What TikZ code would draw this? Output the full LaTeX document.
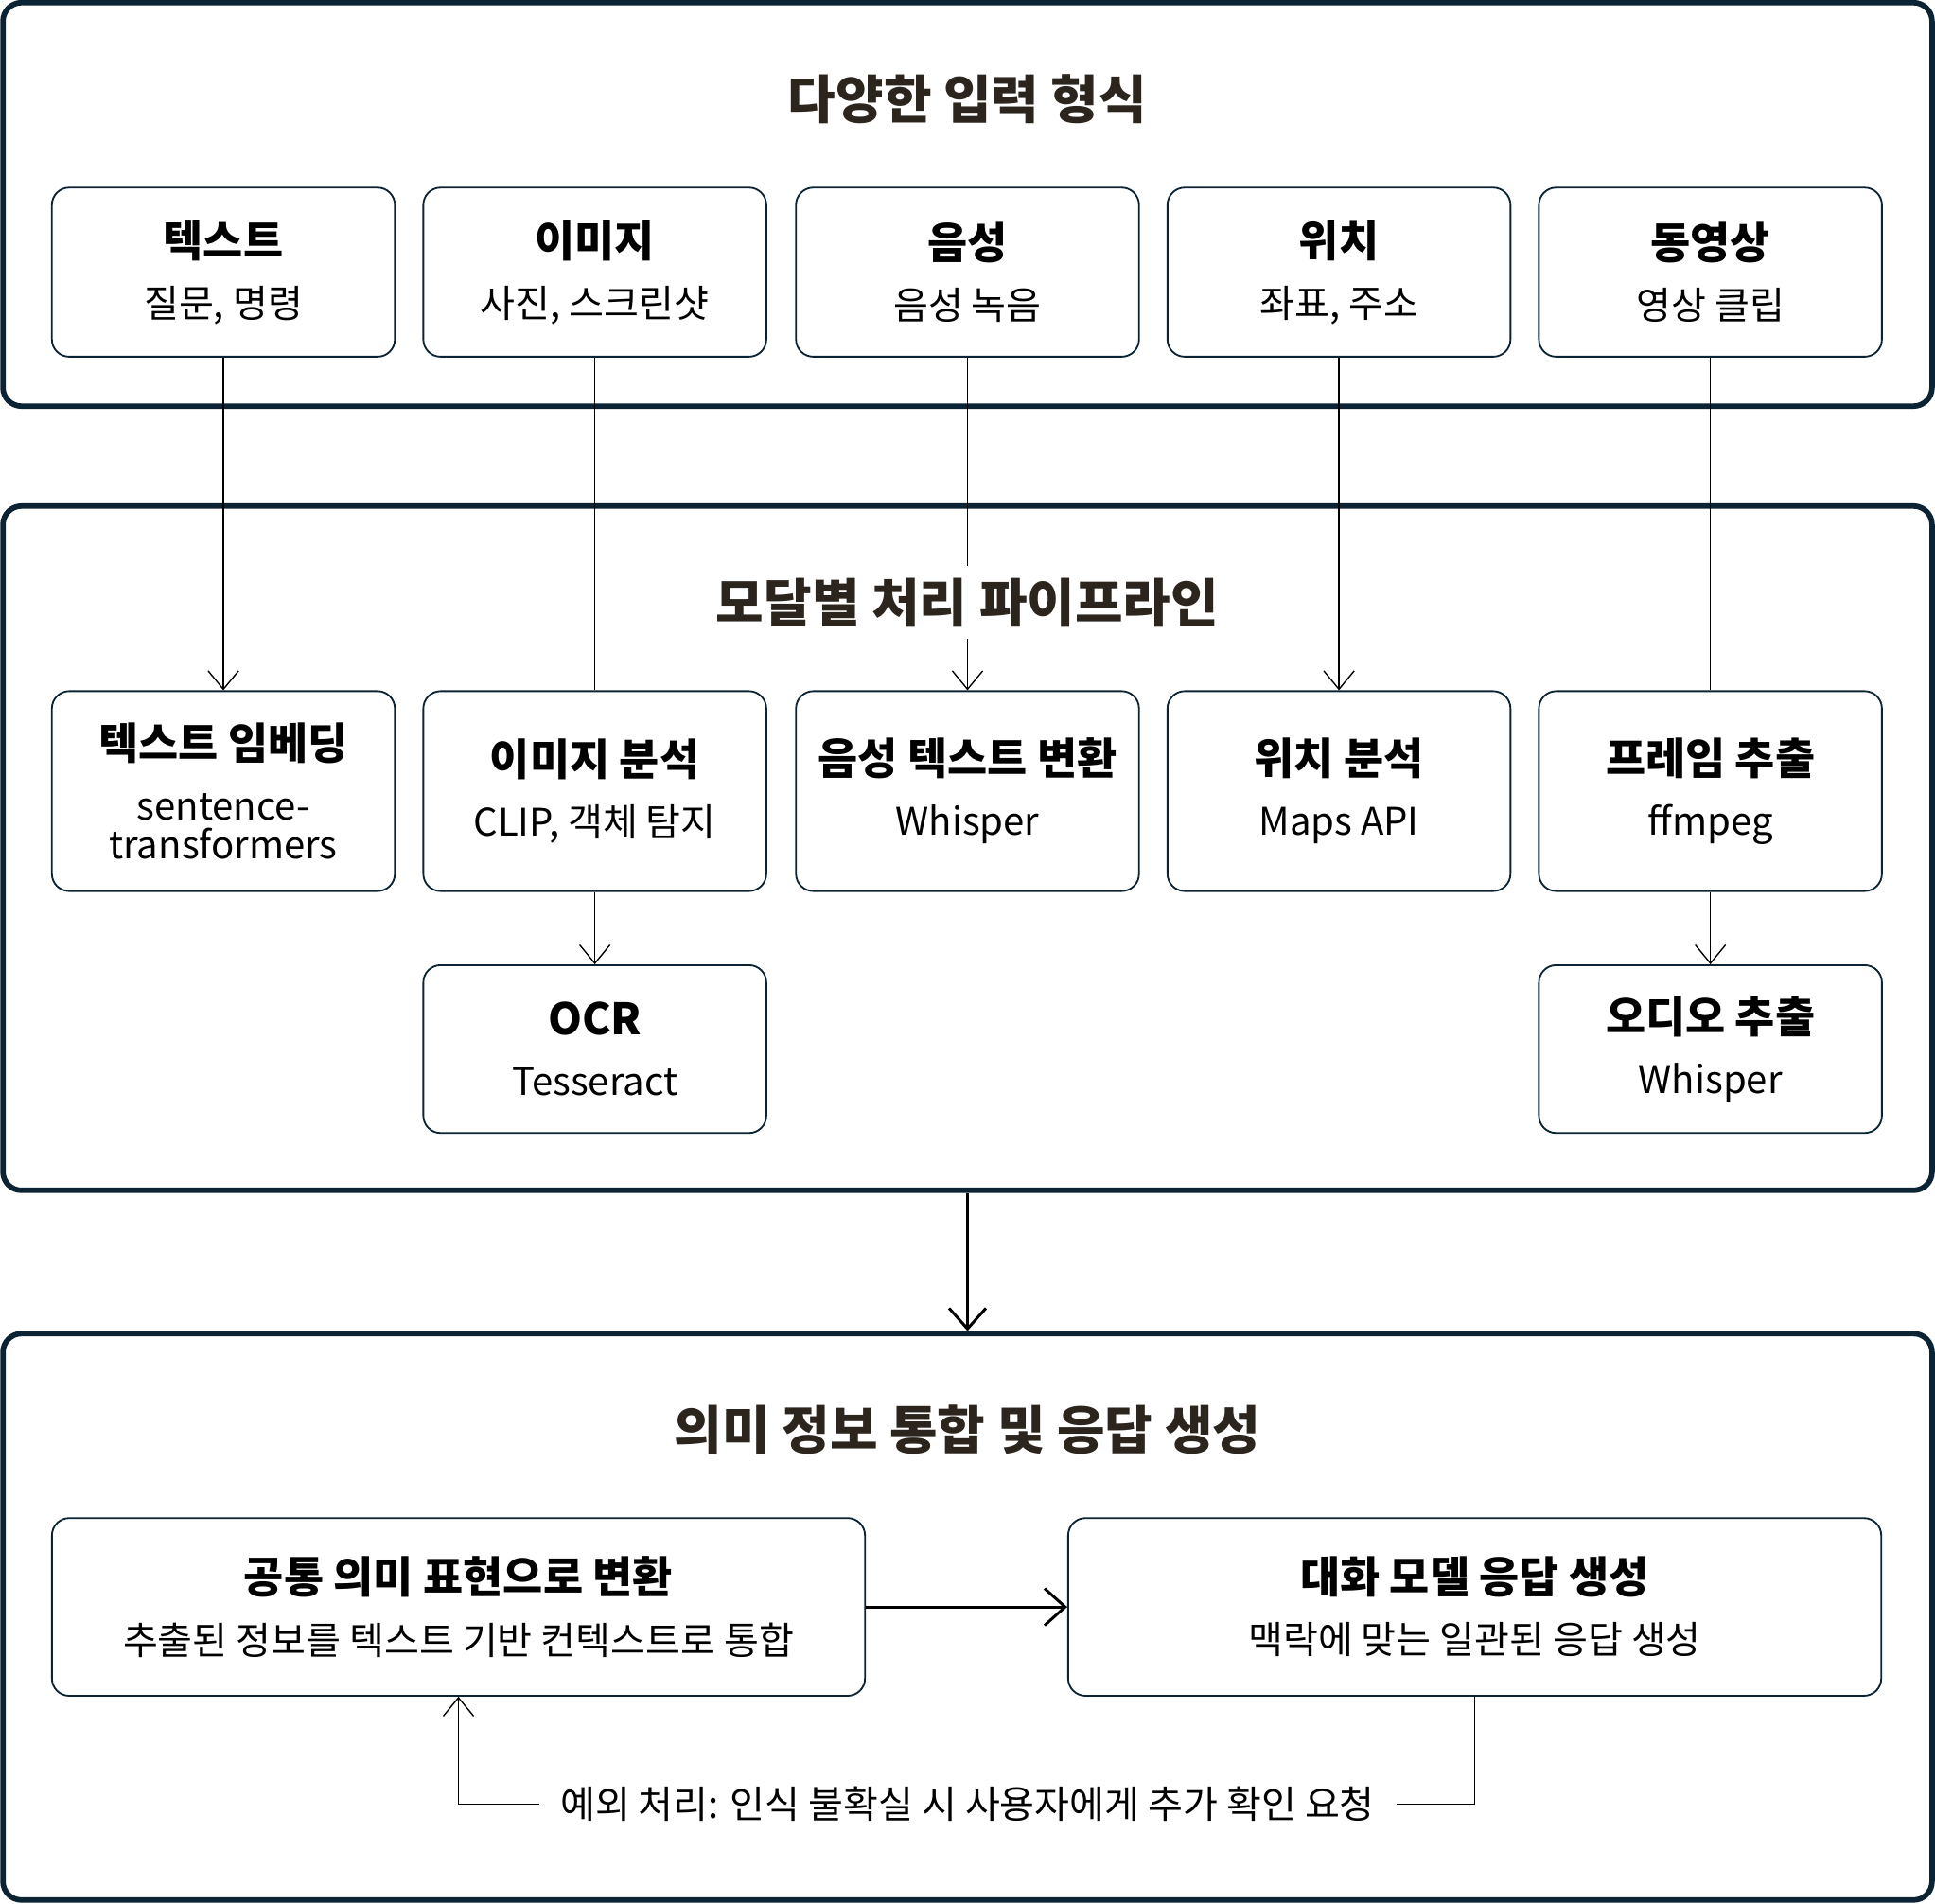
\documentclass[tikz,border=0pt]{standalone}
\usepackage{fontspec}
\setmainfont{Noto Sans CJK KR}
\usepackage{tikz}
\usetikzlibrary{positioning}
\usetikzlibrary{arrows.meta}

\definecolor{panelline}{HTML}{0B2333}
\definecolor{headtext}{HTML}{2B251E}

\newcommand{\boxlines}[2]{{\fontsize{20}{24}\selectfont\bfseries #1}\\#2}

\begin{document}
\begin{tikzpicture}[
		x=0.02cm, y=-0.02cm,
		panel/.style={draw=panelline, line width=2.5pt, rounded corners=0.3cm, minimum width=31.27cm, inner sep=0},
		head/.style={font=\fontsize{24}{28}\selectfont\bfseries, text=headtext, fill=white, inner sep=0.2cm},
		card/.style={draw=panelline, line width=0.8pt, rounded corners=0.28cm, minimum width=5.56cm, align=center, inner sep=0, font=\fontsize{17.5}{28}\selectfont},
		wide/.style={card, minimum width=13.18cm, minimum height=2.88cm},
		flow/.style={line width=0.6pt, -{Straight Barb[length=8.5pt,width=14pt]}},
		bigflow/.style={line width=1.3pt, -{Straight Barb[length=9.5pt,width=17pt]}}
	]
		\useasboundingbox (0,0) rectangle (1568,1542);
	
		\path
			(784,165.6) node[panel, minimum height=6.54cm](inp){}
			(784,687.25) node[panel, minimum height=11.09cm](proc){}
			(784,1310) node[panel, minimum height=9.18cm](outp){}
		;
	
		\path
			(181,220.5) node[card, minimum height=2.74cm](txt){\boxlines{텍스트}{질문, 명령}}
			(482,220.5) node[card, minimum height=2.74cm](img){\boxlines{이미지}{사진, 스크린샷}}
			(784,220.5) node[card, minimum height=2.74cm](aud){\boxlines{음성}{음성 녹음}}
			(1085,220.5) node[card, minimum height=2.74cm](loc){\boxlines{위치}{좌표, 주소}}
			(1386,220.5) node[card, minimum height=2.74cm](vid){\boxlines{동영상}{영상 클립}}
			(181,641) node[card, minimum height=3.24cm](emb){\boxlines{텍스트 임베딩}{sentence-\\[-10pt]transformers}}
			(482,641) node[card, minimum height=3.24cm](imgA){\boxlines{이미지 분석}{CLIP, 객체 탐지}}
			(784,641) node[card, minimum height=3.24cm](stt){\boxlines{음성 텍스트 변환}{Whisper}}
			(1085,641) node[card, minimum height=3.24cm](locA){\boxlines{위치 분석}{Maps API}}
			(1386,641) node[card, minimum height=3.24cm](frm){\boxlines{프레임 추출}{ffmpeg}}
			(482,850) node[card, minimum height=2.72cm](ocr){\boxlines{OCR}{Tesseract}}
			(1386,850) node[card, minimum height=2.72cm](audX){\boxlines{오디오 추출}{Whisper}}
			(371.5,1302) node[wide](conv){\boxlines{공통 의미 표현으로 변환}{추출된 정보를 텍스트 기반 컨텍스트로 통합}}
			(1195,1302) node[wide](resp){\boxlines{대화 모델 응답 생성}{맥락에 맞는 일관된 응답 생성}}
			(784,1462) node[fill=white, inner xsep=0.34cm, font=\fontsize{17.5}{21}\selectfont](exc){예외 처리: 인식 불확실 시 사용자에게 추가 확인 요청}
		;
	
		\draw[flow] (txt) -- (emb);
		\draw[line width=0.6pt] (img) -- (imgA);
		\draw[flow] (aud) -- (stt);
		\draw[flow] (loc) -- (locA);
		\draw[line width=0.6pt] (vid) -- (frm);
		\draw[flow] (imgA) -- (ocr);
		\draw[flow] (frm) -- (audX);
		\draw[bigflow] (proc) -- (outp);
		\draw[bigflow] (conv) -- (resp);
		\draw[line width=0.6pt] (resp.south) |- (exc.east);
		\draw[flow] (exc.west) -| (conv.south);
	
		\path
			(784,80) node[head](inpT){다양한 입력 형식}
			(784,488) node[head](procT){모달별 처리 파이프라인}
			(784,1158) node[head](outpT){의미 정보 통합 및 응답 생성}
		;
	\end{tikzpicture}
\end{document}
